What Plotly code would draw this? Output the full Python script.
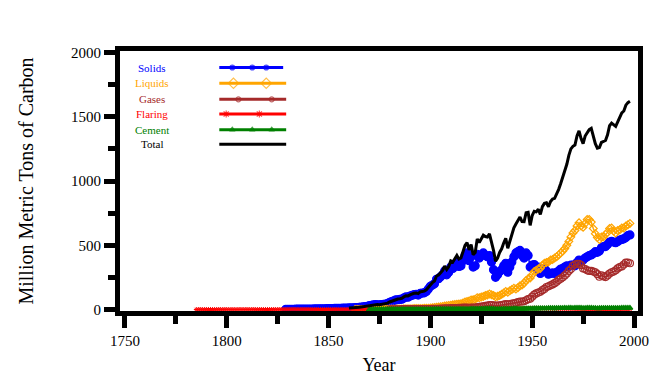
import plotly.graph_objects as go

N = None
years = list(range(1785, 1999))

solids = [
    N, N, N, N, N,
    N, N, N, N, N, N, N, N, N, N,
    N, N, N, N, N, N, N, N, N, N,
    N, N, N, N, N, N, N, N, N, N,
    N, N, N, N, N, N, N, N, N, 1.4,
    1.6, 1.7, 1.9, 2.0, 2.2, 2.4, 2.6, 2.8, 3.0, 3.2,
    3.4, 3.6, 3.9, 4.2, 4.5, 4.8, 5.1, 5.4, 5.8, 6.2,
    6.6, 7.0, 7.5, 8.0, 8.5, 9.0, 9.6, 10.2, 10.8, 11.5,
    12, 12, 13, 14, 15, 17, 19, 21, 23, 25,
    30, 32, 36, 38, 37, 36, 38, 41, 42, 47,
    55, 62, 68, 75, 76, 78, 80, 90, 98, 96,
    105, 110, 115, 118, 112, 125, 128, 130, 140, 160,
    180, 190, 200, 235, 240, 255, 270, 300, 270, 290,
    330, 320, 340, 365, 335, 340, 380, 420, 440, 380,
    410, 330, 340, 430, 400, 420, 440, 420, 410, 420,
    370, 310, 250, 270, 295, 310, 340, 360, 290, 330,
    370, 410, 440, 450, 460, 420, 400, 440, 420, 330,
    345, 350, 320, 330, 280, 310, 320, 300, 275, 280,
    285, 280, 290, 300, 315, 320, 330, 340, 335, 345,
    345, 340, 365, 385, 380, 385, 400, 410, 420, 425,
    435, 450, 445, 455, 480, 490, 490, 505, 525, 530,
    525, 520, 530, 540, 545, 550, 560, 575, 580,
]

liquids = [
    N, N, N, N, N,
    N, N, N, N, N, N, N, N, N, N,
    N, N, N, N, N, N, N, N, N, N,
    N, N, N, N, N, N, N, N, N, N,
    N, N, N, N, N, N, N, N, N, N,
    N, N, N, N, N, N, N, N, N, N,
    N, N, N, N, N, N, N, N, N, N,
    N, N, N, N, N, N, N, N, N, N,
    N, N, N, 0.1, 0.2, 0.3, 0.4, 0.5, 0.6, 0.8,
    1, 1, 1.2, 1.4, 1.5, 1.6, 1.8, 2, 2.2, 2.5,
    3, 3, 3.5, 3.5, 4, 4, 4.5, 5, 5, 5.5,
    6, 6.5, 7, 7, 7.5, 8, 8.5, 9, 9, 10,
    11, 13, 15, 18, 20, 22, 24, 27, 30, 32,
    34, 36, 38, 40, 42, 45, 50, 58, 62, 66,
    74, 75, 80, 92, 92, 98, 102, 108, 112, 120,
    115, 108, 100, 103, 108, 118, 128, 140, 135, 145,
    155, 165, 160, 170, 185, 190, 205, 225, 240, 245,
    270, 295, 305, 315, 320, 345, 360, 365, 370, 385,
    390, 400, 410, 425, 440, 455, 475, 500, 530, 565,
    595, 615, 650, 675, 650, 640, 670, 700, 700, 680,
    630, 590, 560, 545, 565, 565, 585, 600, 630, 635,
    610, 595, 615, 620, 635, 635, 650, 660, 670,
]

gases = [
    N, N, N, N, N,
    N, N, N, N, N, N, N, N, N, N,
    N, N, N, N, N, N, N, N, N, N,
    N, N, N, N, N, N, N, N, N, N,
    N, N, N, N, N, N, N, N, N, N,
    N, N, N, N, N, N, N, N, N, N,
    N, N, N, N, N, N, N, N, N, N,
    N, N, N, N, N, N, N, N, N, N,
    N, N, N, N, N, N, N, N, N, N,
    N, N, N, N, N, N, N, N, N, N,
    0.5, 0.6, 0.8, 1, 1.5, 2, 2.5, 3, 3.5, 4,
    4, 4, 4, 3.5, 3.5, 3.5, 3.5, 3.5, 3.5, 4,
    4, 4.5, 5, 5.5, 6, 6.5, 7, 8, 8.5, 9,
    10, 10, 11, 11, 12, 12, 14, 15, 14, 13,
    15, 15, 15, 18, 20, 22, 25, 28, 30, 35,
    35, 32, 30, 30, 32, 35, 38, 42, 40, 42,
    45, 48, 52, 58, 62, 62, 64, 72, 80, 84,
    100, 115, 125, 132, 138, 150, 160, 175, 180, 188,
    195, 205, 215, 230, 240, 250, 265, 280, 300, 315,
    340, 350, 355, 355, 345, 320, 315, 305, 300, 300,
    295, 290, 275, 255, 265, 258, 252, 265, 280, 290,
    295, 305, 320, 330, 335, 350, 365, 365, 360,
]

flaring = [
    0, 0, 0, 0, 0,
    0, 0, 0, 0, 0, 0, 0, 0, 0, 0,
    0, 0, 0, 0, 0, 0, 0, 0, 0, 0,
    0, 0, 0, 0, 0, 0, 0, 0, 0, 0,
    0, 0, 0, 0, 0, 0, 0, 0, 0, 0,
    0, 0, 0, 0, 0, 0, 0, 0, 0, 0,
    0, 0, 0, 0, 0, 0, 0, 0, 0, 0,
    0, 0, 0, 0, 0, 0, 0, 0, 0, 0,
    0, 0, 0, 0, 0, 0, 0, 0, 0, 0,
    0, 0, 0, 0, 0, 0, 0, 0, 0, 0,
    0, 0, 0, 0, 0, 0, 0, 0, 0, 0,
    0, 0, 0, 0, 0, 0, 0, 0, 0, 0,
    0.5, 0.5, 0.6, 0.6, 0.7, 0.8, 0.9, 1, 1, 1.1,
    1.2, 1.3, 1.4, 1.5, 1.6, 1.8, 2, 2.2, 2.4, 2.6,
    3, 3.5, 4, 5, 5, 5.5, 6, 6.5, 7, 8,
    7, 6, 6, 6, 6.5, 7, 7.5, 8, 8, 8,
    8, 8, 8, 8, 9, 9, 9, 10, 10, 10,
    10, 10, 10, 10, 9, 9, 9, 8, 8, 8,
    7, 7, 7, 6, 6, 6, 6, 6, 6, 6,
    5, 5, 4, 4, 3, 3, 2, 2, 2, 2,
    2, 2, 2, 2, 2, 2, 2, 2, 2, 2,
    2, 2, 2, 2, 2, 3, 3, 3, 3,
]

cement = [
    N, N, N, N, N,
    N, N, N, N, N, N, N, N, N, N,
    N, N, N, N, N, N, N, N, N, N,
    N, N, N, N, N, N, N, N, N, N,
    N, N, N, N, N, N, N, N, N, N,
    N, N, N, N, N, N, N, N, N, N,
    N, N, N, N, N, N, N, N, N, N,
    N, N, N, N, N, N, N, N, N, N,
    N, N, N, N, N, N, N, N, N, N,
    0, 0, 0, 0, 0, 0, 0, 0, 0, 0,
    0.1, 0.1, 0.1, 0.1, 0.1, 0.2, 0.2, 0.2, 0.2, 0.2,
    0.2, 0.3, 0.3, 0.3, 0.3, 0.4, 0.4, 0.5, 0.6, 0.7,
    0.8, 1, 1.2, 1.4, 1.5, 1.8, 2, 2.2, 2, 2.3,
    2.6, 2.7, 2.8, 3, 2.9, 2.8, 3, 3, 2.5, 2.6,
    3.2, 3.3, 3.7, 4.2, 4.5, 4.8, 4.8, 5, 5, 5,
    4.5, 3.8, 2.6, 2.3, 2.7, 2.6, 3.7, 3.7, 3.5, 4,
    4.3, 5.3, 5.8, 4.6, 3.3, 3.5, 5.2, 5.5, 6, 6,
    6.5, 7, 7, 7.5, 7.8, 8.6, 8.8, 8.5, 8.9, 9.6,
    9, 9.1, 9.5, 10, 10.5, 10.6, 11, 10.6, 11, 11,
    10.5, 11, 11.5, 12, 11.3, 9.5, 10.2, 11.2, 11.5, 11.5,
    10.3, 9.7, 8.7, 9.3, 10, 9.9, 10.1, 10.3, 10.3, 10.2,
    10, 9.7, 10, 10.4, 10.9, 10.9, 11.2, 11.5, 11.7,
]

total = [
    N, N, N, N, N,
    N, N, N, N, N, N, N, N, N, N,
    N, N, N, N, N, N, N, N, N, N,
    N, N, N, N, N, N, N, N, N, N,
    N, N, N, N, N, N, N, N, N, N,
    N, N, N, N, N, N, N, N, N, N,
    N, N, N, N, N, N, N, N, N, N,
    N, N, N, N, N, N, N, N, N, N,
    12, 12, 13, 14.1, 15.2, 17.3, 19.4, 21.5, 23.6, 25.8,
    31, 33, 37.2, 39.4, 38.5, 37.6, 39.8, 43, 44.2, 49.5,
    58.6, 65.7, 72.4, 79.6, 81.6, 84.2, 87.2, 98.2, 106.7, 105.7,
    115.2, 120.8, 126.3, 128.8, 123.3, 136.9, 140.4, 143, 153.1, 174.7,
    196.3, 209, 221.8, 260.5, 268.2, 286.1, 303.9, 338.2, 311.5, 334.4,
    377.8, 370, 393.2, 420.5, 393.5, 401.6, 449, 498.2, 520.9, 464.2,
    505.2, 426.8, 442.7, 549.2, 521.5, 550.3, 577.8, 567.5, 564, 588,
    531.5, 460, 375, 400, 444, 472.6, 517.2, 553.7, 476.5, 529,
    582.3, 636.3, 665.8, 690.6, 719.3, 684.5, 683.2, 752.5, 756, 655,
    731.5, 765, 760, 780, 740, 800, 826, 830, 800, 840,
    860, 865, 895, 935, 980, 1030, 1090, 1130, 1200, 1250,
    1270, 1280, 1350, 1390, 1330, 1290, 1350, 1380, 1400, 1410,
    1350, 1290, 1255, 1260, 1300, 1310, 1315, 1360, 1430, 1450,
    1440, 1425, 1460, 1500, 1530, 1545, 1590, 1610, 1620,
]

for name, s in [("solids", solids), ("liquids", liquids), ("gases", gases),
                ("flaring", flaring), ("cement", cement), ("total", total)]:
    assert len(s) == len(years), (name, len(s), len(years))

series_names = ["Solids", "Liquids", "Gases", "Flaring", "Cement", "Total"]
series_colors = ["#0000FF", "#FFA500", "#A52A2A", "#FF0000", "#008000", "#000000"]
series_symbols = ["circle", "diamond-open", "circle-open", "asterisk-open", "triangle-up", None]
series_sizes = [8, 6, 7, 4, 5, 0]
series_lw = [1.5, 1.5, 1.5, 0.8, 1.5, 3]
series_values = [solids, liquids, gases, flaring, cement, total]

x_ticks = [1750, 1800, 1850, 1900, 1950, 2000]
y_ticks = [0, 500, 1000, 1500, 2000]

# legend sample geometry (plot-area fractions)
leg_y = [0.9365, 0.8757, 0.8141, 0.7577, 0.6974, 0.6410]
leg_x0, leg_x1 = 0.1917, 0.3208
leg_marks = [
    [0.2168, 0.2553, 0.2823],
    [0.2190, 0.2823],
    [0.2286, 0.2929],
    [0.2050, 0.2690],
    [0.2168, 0.2553, 0.2929],
    [],
]
leg_msize = [5, 8, 5, 6, 5, 0]
leg_label_x = 0.0626

SERIF = "Liberation Serif, Times New Roman, serif"

fig = go.Figure()

for name, col, sym, sz, lw, vals in zip(series_names, series_colors, series_symbols,
                                        series_sizes, series_lw, series_values):
    if sym is None:
        fig.add_trace(go.Scatter(x=years, y=vals, mode="lines", name=name,
                                 line=dict(color=col, width=lw),
                                 showlegend=False, connectgaps=False))
    else:
        fig.add_trace(go.Scatter(x=years, y=vals, mode="lines+markers", name=name,
                                 line=dict(color=col, width=lw),
                                 marker=dict(symbol=sym, size=sz, color=col,
                                             line=dict(color=col, width=1.0 if sym.startswith("asterisk") else 1.2)),
                                 showlegend=False, connectgaps=False))

# custom legend (label left, sample right)
for i, (name, col, sym) in enumerate(zip(series_names, series_colors, series_symbols)):
    xend = leg_x1 if i != 0 else 0.315
    if sym is None:
        fig.add_trace(go.Scatter(x=[leg_x0, xend], y=[leg_y[i]] * 2, mode="lines",
                                 line=dict(color=col, width=3), xaxis="x2", yaxis="y2",
                                 showlegend=False, hoverinfo="skip"))
    else:
        xs = [leg_x0] + leg_marks[i] + [xend]
        ys = [leg_y[i]] * len(xs)
        sizes = [0] + [leg_msize[i]] * len(leg_marks[i]) + [0]
        fig.add_trace(go.Scatter(x=xs, y=ys, mode="lines+markers",
                                 line=dict(color=col, width=3),
                                 marker=dict(symbol=sym, size=sizes, color=col,
                                             line=dict(color=col, width=1.2)),
                                 xaxis="x2", yaxis="y2", showlegend=False,
                                 hoverinfo="skip"))
    fig.add_annotation(x=leg_label_x, y=leg_y[i], xref="paper", yref="paper",
                       text=name, showarrow=False, xanchor="center", yanchor="middle",
                       font=dict(family=SERIF, size=11, color=col))

axis_common = dict(showgrid=False, zeroline=False, showline=True, linewidth=5,
                   linecolor="black", mirror=True, ticks="outside", tickwidth=5,
                   tickcolor="black", automargin=False, layer="above traces",
                   tickfont=dict(family=SERIF, size=15, color="black"))

fig.update_layout(
    width=665, height=380,
    margin=dict(l=120, r=27, t=51, b=69, autoexpand=False),
    paper_bgcolor="white", plot_bgcolor="white",
    showlegend=False,
    xaxis=dict(range=[1747.55, 2001.96], tickvals=x_ticks,
               ticktext=[str(v) for v in x_ticks], ticklen=12,
               minor=dict(dtick=25, tick0=1750, ticks="outside", ticklen=8,
                          tickwidth=5, tickcolor="black"),
               title=dict(text="Year", font=dict(family=SERIF, size=18, color="black"),
                          standoff=12),
               **axis_common),
    yaxis=dict(range=[-11.7, 2011.7], tickvals=y_ticks,
               ticktext=[str(v) for v in y_ticks], ticklen=11,
               minor=dict(dtick=250, tick0=0, ticks="outside", ticklen=7,
                          tickwidth=5, tickcolor="black"),
               title=dict(text="Million Metric Tons of Carbon",
                          font=dict(family=SERIF, size=20, color="black"),
                          standoff=34),
               **axis_common),
    xaxis2=dict(overlaying="x", range=[0, 1], visible=False, fixedrange=True),
    yaxis2=dict(overlaying="y", range=[0, 1], visible=False, fixedrange=True),
)

fig.write_html("out.html", config={"displayModeBar": False},
               post_script="document.body.style.margin='0';document.body.style.padding='0';")
